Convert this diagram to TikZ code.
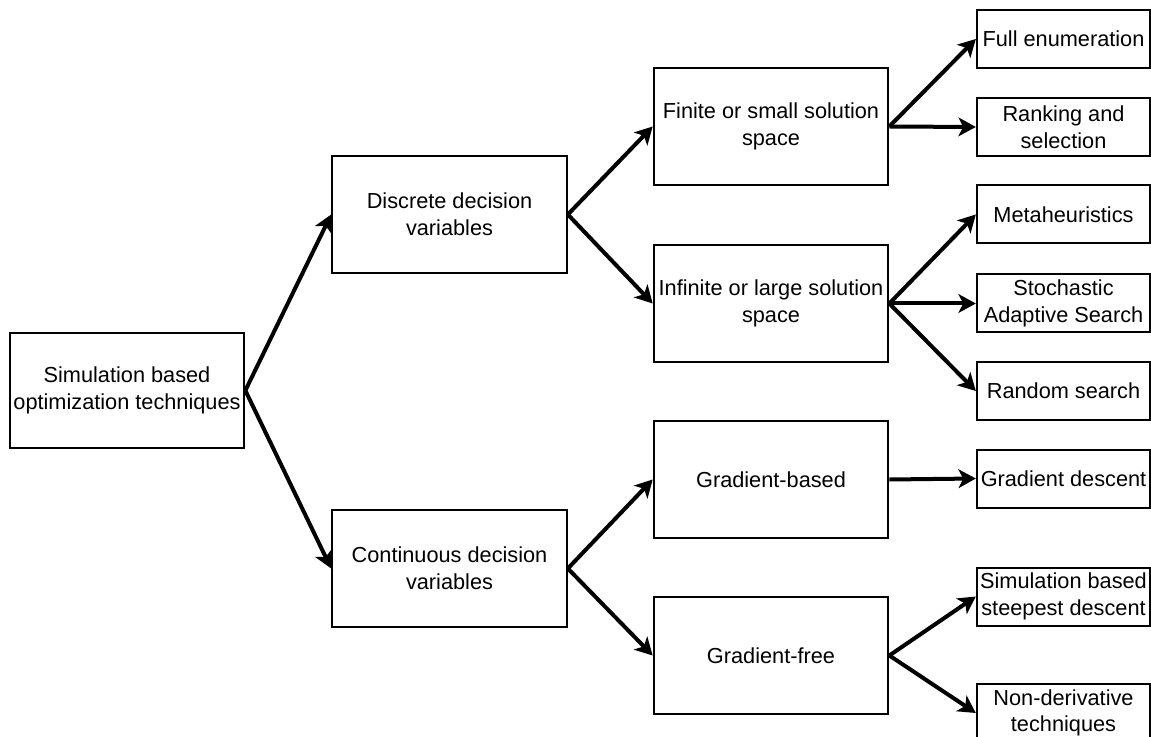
\documentclass[tikz,border=0pt]{standalone}
\usepackage{fontspec}
\setmainfont{Liberation Sans}
\usetikzlibrary{arrows.meta}
\begin{document}
\begin{tikzpicture}[x=0.75pt,y=-0.75pt,
  box/.style={draw,line width=1.5pt,rectangle,align=center,inner sep=0pt,
    font=\fontsize{16.3}{20}\selectfont},
  bigbox/.style={box,minimum width=176pt,minimum height=87.5pt},
  leaf/.style={box,minimum width=130pt,minimum height=43.5pt},
  link/.style={line width=3pt,-{Stealth[length=13pt,width=14pt,inset=3.5pt]}}]
\useasboundingbox (0,0) rectangle (1151,737);
% root
\node[bigbox,minimum height=86pt] (root) at (127,390.5) {Simulation based\\optimization techniques};
% second level
\node[bigbox] (disc) at (449.5,214.5) {Discrete decision\\variables};
\node[bigbox] (cont) at (449.5,568.5) {Continuous decision\\variables};
% third level
\node[bigbox] (fin) at (771,126.5) {Finite or small solution\\space};
\node[bigbox] (inf) at (771,303.5) {Infinite or large solution\\space};
\node[bigbox] (gb) at (771,479.5) {Gradient-based};
\node[bigbox] (gf) at (771,655.5) {Gradient-free};
% leaves
\node[leaf] (full) at (1063.5,39) {Full enumeration};
\node[leaf] (rank) at (1063.5,127) {Ranking and\\selection};
\node[leaf] (meta) at (1063.5,214.5) {Metaheuristics};
\node[leaf] (stoch) at (1063.5,303.5) {Stochastic\\Adaptive Search};
\node[leaf] (rand) at (1063.5,391) {Random search};
\node[leaf] (gd) at (1063.5,478.5) {Gradient descent};
\node[leaf] (ssd) at (1063.5,596.5) {Simulation based\\steepest descent};
\node[leaf] (nd) at (1063.5,713) {Non-derivative\\techniques};
% connectors
\draw[link] (root.east) -- (disc.west);
\draw[link] (root.east) -- (cont.west);
\draw[link] (disc.east) -- (fin.west);
\draw[link] (disc.east) -- (inf.west);
\draw[link] (cont.east) -- (gb.west);
\draw[link] (cont.east) -- (gf.west);
\draw[link] (fin.east) -- (full.west);
\draw[link] (fin.east) -- (rank.west);
\draw[link] (inf.east) -- (meta.west);
\draw[link] (inf.east) -- (stoch.west);
\draw[link] (inf.east) -- (rand.west);
\draw[link] (gb.east) -- (gd.west);
\draw[link] (gf.east) -- (ssd.west);
\draw[link] (gf.east) -- (nd.west);
\end{tikzpicture}
\end{document}
